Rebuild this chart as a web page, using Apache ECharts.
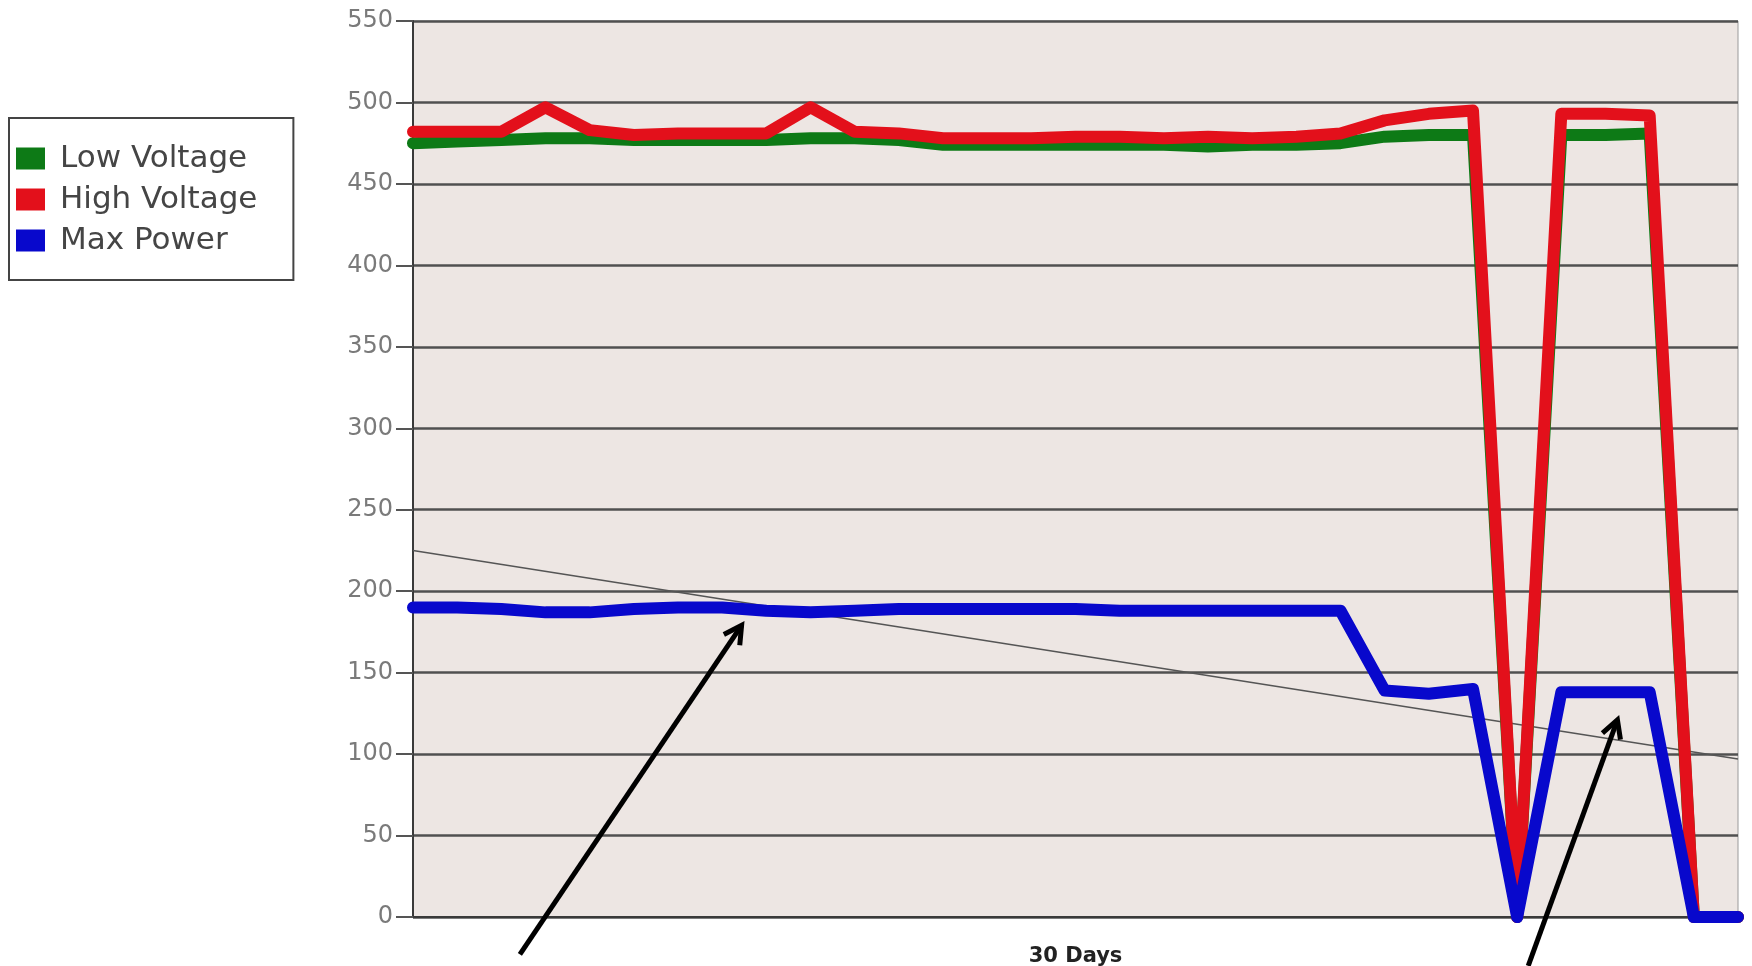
<!DOCTYPE html>
<html>
<head>
<meta charset="utf-8">
<script src="https://cdn.jsdelivr.net/npm/echarts/dist/echarts.min.js"></script>
<style>
html,body{margin:0;padding:0;background:#ffffff;}
#chart{width:1752px;height:966px;}
</style>
</head>
<body>
<div id="chart"></div>
<script>
// ---- data ----
const days = [0,1,2,3,4,5,6,7,8,9,10,11,12,13,14,15,16,17,18,19,20,21,22,23,24,25,26,27,28,29,30];
const lowVoltage  = [475,476,477,478,478,477,477,477,477,478,478,477,474,474,474,474,474,474,473,474,474,475,479,480,480,0,480,480,481,0,0];
const highVoltage = [482,482,482,497,483,480,481,481,481,497,482,481,478,478,478,479,479,478,479,478,479,481,489,493,495,0,493,493,492,0,0];
const maxPower    = [190,190,189,187,187,189,190,190,188,187,188,189,189,189,189,189,188,188,188,188,188,188,139,137,140,0,138,138,138,0,0];
const trendLine   = [[0,225],[30,97]];           // thin trend line, [day, value]
const arrowNotes  = [[[2.42,-23],[7.44,179]],    // annotation arrows, [day, value] tail -> tip
                     [[25.25,-30],[27.27,121]]];
const seriesNames = ['Low Voltage','High Voltage','Max Power'];
const xAxisName   = '30 Days';
const yMin = 0, yMax = 550, yStep = 50;

const colors = ['#0D7A16','#E3101B','#0808CC'];

const chart = echarts.init(document.getElementById('chart'));

function lineSeries(name, values, color, extra) {
  return Object.assign({
    name: name,
    type: 'line',
    data: values.map((v, i) => [days[i], v]),
    symbol: 'none',
    showSymbol: false,
    lineStyle: {color: color, width: 12, join: 'round', cap: 'round'},
    itemStyle: {color: color},
    emphasis: {disabled: true},
    animation: false
  }, extra || {});
}

const option = {
  animation: false,
  backgroundColor: '#ffffff',
  grid: {
    left: 413, right: 14, top: 21, bottom: 49,
    containLabel: false,
    outerBoundsMode: 'none',
    show: true,
    backgroundColor: '#EDE6E3',
    borderColor: '#9a9a9a',
    borderWidth: 1
  },
  legend: {
    orient: 'vertical',
    left: 9,
    top: 118,
    icon: 'rect',
    itemWidth: 29,
    itemHeight: 22,
    itemGap: 10,
    padding: [25, 36, 24, 7],
    backgroundColor: '#ffffff',
    borderColor: '#444444',
    borderWidth: 2,
    borderRadius: 0,
    selectedMode: false,
    data: seriesNames,
    textStyle: {
      fontFamily: 'DejaVu Sans',
      fontSize: 31,
      color: '#454545',
      padding: [0, 0, 0, 10]
    }
  },
  xAxis: {
    type: 'value',
    min: days[0],
    max: days[days.length - 1],
    axisLabel: {show: false},
    axisTick: {show: false},
    splitLine: {show: false},
    axisLine: {show: true, lineStyle: {color: '#3a3a3a', width: 2}},
    name: xAxisName,
    nameLocation: 'middle',
    nameGap: 29,
    nameTextStyle: {
      fontFamily: 'DejaVu Sans',
      fontWeight: 'bold',
      fontSize: 21,
      color: '#222222'
    }
  },
  yAxis: {
    type: 'value',
    min: yMin,
    max: yMax,
    interval: yStep,
    axisLine: {show: true, lineStyle: {color: '#3a3a3a', width: 2}},
    axisTick: {show: true, length: 17, lineStyle: {color: '#555555', width: 2}},
    axisLabel: {margin: 20, fontFamily: 'DejaVu Sans', fontSize: 24, color: '#7a7a7a'},
    splitLine: {show: true, lineStyle: {color: '#505050', width: 2.5}}
  },
  series: [
    lineSeries(seriesNames[0], lowVoltage, colors[0], {
      markLine: {
        silent: true,
        z: 1,
        symbol: ['none', 'none'],
        label: {show: false},
        lineStyle: {color: '#555555', width: 1.5, type: 'solid'},
        emphasis: {disabled: true},
        animation: false,
        data: [[{coord: trendLine[0]}, {coord: trendLine[1]}]]
      }
    }),
    lineSeries(seriesNames[1], highVoltage, colors[1]),
    lineSeries(seriesNames[2], maxPower, colors[2])
  ]
};

chart.setOption(option);

// annotation arrows placed in data space
const graphics = [];
arrowNotes.forEach(function (a) {
  const p0 = chart.convertToPixel({gridIndex: 0}, a[0]);
  const p1 = chart.convertToPixel({gridIndex: 0}, a[1]);
  const ang = Math.atan2(p1[1] - p0[1], p1[0] - p0[0]);
  const L = 20, h = 0.5;
  const b1 = [p1[0] - L * Math.cos(ang - h), p1[1] - L * Math.sin(ang - h)];
  const b2 = [p1[0] - L * Math.cos(ang + h), p1[1] - L * Math.sin(ang + h)];
  graphics.push({
    type: 'line', z: 100, silent: true,
    shape: {x1: p0[0], y1: p0[1], x2: p1[0], y2: p1[1]},
    style: {stroke: '#000000', lineWidth: 5}
  });
  graphics.push({
    type: 'polyline', z: 100, silent: true,
    shape: {points: [b1, p1, b2]},
    style: {stroke: '#000000', lineWidth: 5, fill: null, lineJoin: 'miter'}
  });
});
chart.setOption({graphic: graphics});
</script>
</body>
</html>
